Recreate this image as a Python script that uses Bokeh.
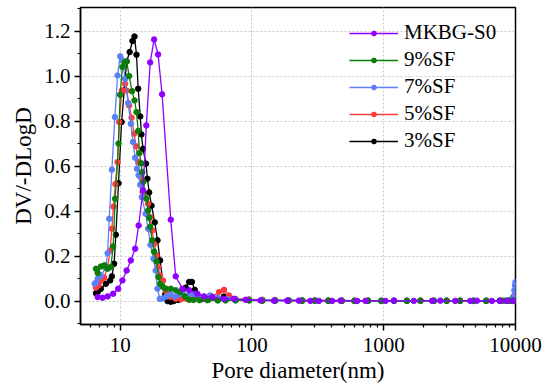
from bokeh.plotting import figure
from bokeh.models import (Range1d, FixedTicker, NumeralTickFormatter,
                          PrintfTickFormatter, Legend, LegendItem)
from bokeh.embed import file_html
from bokeh.resources import INLINE

# ---------------- data ----------------
x_ticks = [10, 100, 1000, 10000]
x_minor = [6, 7, 8, 9, 20, 30, 40, 50, 60, 70, 80, 90,
           200, 300, 400, 500, 600, 700, 800, 900,
           2000, 3000, 4000, 5000, 6000, 7000, 8000, 9000]
y_ticks = [0.0, 0.2, 0.4, 0.6, 0.8, 1.0, 1.2]
y_minor = [-0.1, 0.1, 0.3, 0.5, 0.7, 0.9, 1.1, 1.3]

tail_d = [75, 95, 120, 150, 190, 240, 300, 380, 480, 600, 760, 960,
          1200, 1500, 1900, 2400, 3000, 3800, 4800, 6000, 7600]

mk_d = [6.75, 7.36, 8.03, 8.85, 9.66, 10.4, 11.2, 12.05, 13.0, 13.8, 14.9, 15.8,
        16.9, 18.1, 19.4, 20.8, 24.2, 26.4, 29.7, 33.4, 38.5, 43.3, 50, 61.4, 73,
        89.5, 116, 147, 185, 227, 278, 322, 406, 470, 629, 727, 1030, 1190, 1690,
        2330, 2690, 3490, 4540, 5100, 6620, 7650, 8600, 9620]
mk_v = [0.018, 0.015, 0.021, 0.033, 0.055, 0.092, 0.136, 0.181, 0.233, 0.336, 0.492, 0.781,
        1.061, 1.163, 1.096, 0.919, 0.362, 0.110, 0.055, 0.048, 0.033, 0.021, 0.018, 0.010, 0.010,
        0.006, 0.003, 0.002, 0.002, 0.002, 0.001, 0.001, 0.001, 0.002, 0.001, 0.001, 0.001, 0.002, 0.001,
        0.001, 0.002, 0.001, 0.001, 0.002, 0.001, 0.001, 0.001, 0.001]

sf9_d = [6.55, 6.75, 7.14, 7.6, 8.03, 8.5, 8.85, 9.16, 9.72, 10.0, 10.4, 10.8, 11.2,
         11.7, 12.3, 12.85, 13.3, 13.7, 14.0, 14.4, 14.7, 15.0, 15.8, 16.3, 16.6, 16.9,
         17.5, 18.1, 18.9, 19.5, 20.1, 21.0, 22.2, 24.2, 26.4, 28.5, 31, 33.5, 36, 40, 46, 55, 63] \
        + tail_d + [8000, 8400, 8800, 9200, 9500, 9800, 10000]
sf9_v = [0.144, 0.125, 0.154, 0.159, 0.144, 0.151, 0.243, 0.455, 0.700, 0.917, 1.040, 1.060, 1.065,
         1.000, 0.933, 0.892, 0.840, 0.756, 0.658, 0.613, 0.573, 0.530, 0.455, 0.403, 0.370, 0.330,
         0.270, 0.220, 0.176, 0.107, 0.077, 0.065, 0.055, 0.055, 0.048, 0.040, 0.020, 0.006, 0.005, 0.004, 0.004, 0.003, 0.003,
         0.003, 0.003, 0.002, 0.002, 0.002, 0.002, 0.002, 0.002, 0.001, 0.001, 0.002, 0.001,
         0.001, 0.001, 0.002, 0.001, 0.001, 0.001, 0.001, 0.001, 0.002,
         0.002, 0.002, 0.002, 0.002, 0.002, 0.002, 0.002]

sf7_d = [6.4, 6.55, 6.75, 7.14, 7.79, 8.03, 8.26, 8.65, 9.12, 9.55, 10.0, 10.4, 10.9, 11.5,
         12.05, 12.5, 13.0, 13.4, 13.8, 14.2, 14.6, 15.6, 16.3, 17.0, 17.9, 18.6, 19.2, 20.0,
         21, 22.5, 24, 26, 28, 30, 33, 36.3, 40, 48, 55, 65] \
        + tail_d + [9000, 9600, 9800, 9900, 10000]
sf7_v = [0.077, 0.082, 0.100, 0.114, 0.148, 0.213, 0.366, 0.584, 0.818, 1.003, 1.088, 1.070, 0.988, 0.880,
         0.788, 0.707, 0.637, 0.588, 0.559, 0.517, 0.462, 0.388, 0.322, 0.250, 0.188, 0.136, 0.055, 0.010,
         0.012, 0.020, 0.030, 0.020, 0.030, 0.030, 0.025, 0.030, 0.020, 0.025, 0.015, 0.010,
         0.008, 0.006, 0.005, 0.005, 0.004, 0.004, 0.003, 0.003, 0.003, 0.002, 0.002, 0.002,
         0.002, 0.002, 0.002, 0.002, 0.002, 0.002, 0.002, 0.002, 0.002,
         0.005, 0.020, 0.048, 0.070, 0.085]

sf5_d = [6.55, 6.85, 7.14, 7.56, 8.03, 8.4, 8.65, 8.9, 9.2, 9.55, 9.83, 10.3, 10.9, 11.2,
         11.7, 12.2, 12.75, 13.2, 13.7, 14.2, 14.8, 15.5, 16.3, 16.9, 17.5, 18.1, 18.9, 19.4,
         20.1, 21.0, 21.8, 22.6, 24.2, 26.4, 29, 32, 36, 40, 45, 50, 56.3, 61.4, 67] \
        + tail_d + [9000, 10000]
sf5_v = [0.060, 0.070, 0.092, 0.104, 0.151, 0.225, 0.322, 0.420, 0.520, 0.618, 0.796, 0.936, 0.966, 0.936,
         0.870, 0.815, 0.744, 0.688, 0.618, 0.554, 0.484, 0.460, 0.433, 0.373, 0.314, 0.255, 0.203, 0.151,
         0.114, 0.092, 0.055, 0.033, 0.018, 0.010, 0.008, 0.010, 0.010, 0.008, 0.010, 0.020, 0.040, 0.050, 0.025,
         0.010, 0.008, 0.006, 0.005, 0.004, 0.004, 0.003, 0.003, 0.003, 0.002, 0.002, 0.002,
         0.002, 0.002, 0.002, 0.002, 0.002, 0.002, 0.002, 0.002, 0.002,
         0.002, 0.030]

sf3_d = [6.55, 6.75, 7.14, 7.79, 8.4, 8.65, 9.0, 9.27, 9.72, 10.25, 11.2, 11.8, 12.4, 12.85,
         13.3, 13.7, 14.2, 14.5, 14.9, 15.7, 16.1, 16.6, 17.3, 18.3, 19.2, 20.1, 21.0, 22.0,
         22.9, 24.2, 25.5, 27.5, 30, 31.5, 33.4, 35, 36.8, 39, 42, 47, 55, 61.4] \
        + tail_d + [9500]
sf3_v = [0.035, 0.040, 0.055, 0.077, 0.092, 0.110, 0.166, 0.295, 0.524, 0.796, 1.065, 1.107, 1.156, 1.176,
         1.095, 0.944, 0.821, 0.741, 0.677, 0.611, 0.544, 0.483, 0.424, 0.350, 0.270, 0.181, 0.090, 0.030,
         0.000, -0.003, 0.000, 0.005, 0.020, 0.060, 0.085, 0.085, 0.050, 0.020, 0.010, 0.008, 0.006, 0.020,
         0.005, 0.004, 0.003, 0.003, 0.002, 0.002, 0.002, 0.001, 0.001, 0.001, 0.001, 0.001,
         0.001, 0.001, 0.001, 0.002, 0.002, 0.002, 0.001, 0.001, 0.001,
         0.001]

series = [
    ("3%SF", sf3_d, sf3_v, "#000000"),
    ("5%SF", sf5_d, sf5_v, "#ff3b3b"),
    ("7%SF", sf7_d, sf7_v, "#5b80f5"),
    ("9%SF", sf9_d, sf9_v, "#0a7d0a"),
    ("MKBG-S0", mk_d, mk_v, "#9000ff"),
]
legend_order = ["MKBG-S0", "9%SF", "7%SF", "5%SF", "3%SF"]

# ---------------- figure ----------------
p = figure(width=550, height=387, x_axis_type="log",
           x_range=Range1d(5, 10000), y_range=Range1d(-0.104, 1.305),
           output_backend="svg", toolbar_location=None,
           min_border_left=80, min_border_right=35,
           min_border_top=7, min_border_bottom=63)
p.title.visible = False
p.background_fill_color = "white"
p.border_fill_color = "white"
p.outline_line_color = "black"
p.outline_line_width = 1.5
p.outline_line_alpha = 1.0

renderers = {}
for name, d, v, c in series:
    ln = p.line(d, v, line_color=c, line_width=1.3)
    sc = p.scatter(d, v, size=5.5, fill_color=c, line_color=c, marker="circle")
    renderers[name] = [ln, sc]

legend = Legend(items=[LegendItem(label=n, renderers=renderers[n]) for n in legend_order],
                location=(269, 170))
legend.border_line_alpha = 0
legend.background_fill_alpha = 0
legend.padding = 0
legend.margin = 0
legend.spacing = 0
legend.glyph_width = 49
legend.glyph_height = 12
legend.label_height = 27
legend.label_standoff = 6
legend.label_text_font = "Liberation Serif"
legend.label_text_font_size = "21px"
legend.label_text_color = "black"
p.add_layout(legend)

p.xaxis.ticker = FixedTicker(ticks=x_ticks, minor_ticks=x_minor)
p.xaxis.formatter = NumeralTickFormatter(format="0")
p.yaxis.ticker = FixedTicker(ticks=y_ticks, minor_ticks=y_minor)
p.yaxis.formatter = PrintfTickFormatter(format="%.1f")

p.xaxis.axis_label = "Pore diameter(nm)"
p.yaxis.axis_label = "DV/-DLogD"

for ax in [p.xaxis[0], p.yaxis[0]]:
    ax.axis_line_width = 1.5
    ax.axis_line_color = "black"
    ax.major_tick_line_width = 1.5
    ax.minor_tick_line_width = 1.2
    ax.major_tick_out = 6
    ax.major_tick_in = 0
    ax.minor_tick_out = 3
    ax.minor_tick_in = 0
    ax.major_label_text_font = "Liberation Serif"
    ax.major_label_text_font_size = "21px"
    ax.major_label_text_color = "black"
    ax.axis_label_text_font = "Liberation Serif"
    ax.axis_label_text_font_size = "23px"
    ax.axis_label_text_font_style = "normal"
    ax.axis_label_text_color = "black"

p.xaxis.major_label_standoff = 7
p.xaxis.axis_label_standoff = 3
p.yaxis.major_label_standoff = 4
p.yaxis.axis_label_standoff = 5

for g in [p.xgrid[0], p.ygrid[0]]:
    g.grid_line_color = "#c8c8c8"
    g.grid_line_dash = "2 2"
    g.grid_line_width = 1

open("out.html", "w").write(file_html(p, INLINE))
